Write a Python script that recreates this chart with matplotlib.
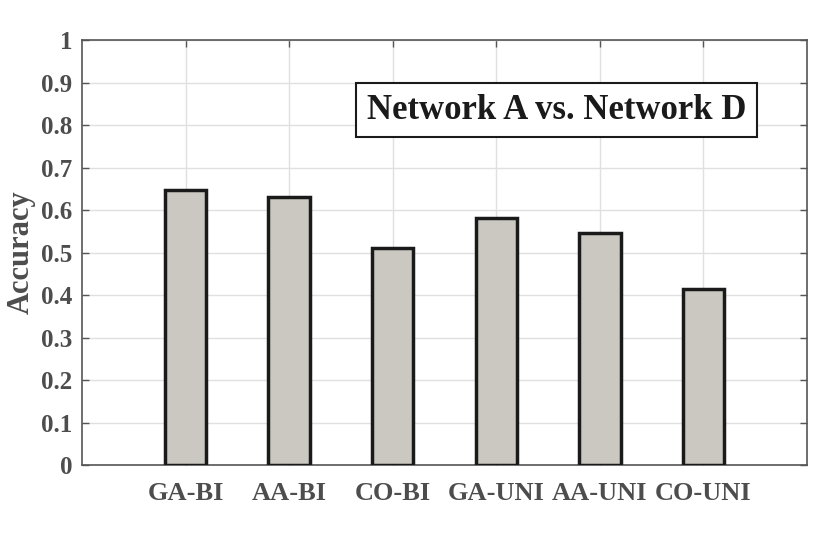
import matplotlib; matplotlib.use("Agg")
import numpy as np, matplotlib.pyplot as plt

methods=["GA-BI","AA-BI","CO-BI","GA-UNI","AA-UNI","CO-UNI"]
accuracy=[0.647,0.630,0.511,0.581,0.546,0.414]
yticks=[0,0.1,0.2,0.3,0.4,0.5,0.6,0.7,0.8,0.9,1]
ytick_labels=["0","0.1","0.2","0.3","0.4","0.5","0.6","0.7","0.8","0.9","1"]

plt.rcParams["font.family"]=["Liberation Serif","DejaVu Serif"]
plt.rcParams["font.weight"]="bold"
txt="#4d4d4d"; axc="#555555"

fig=plt.figure(figsize=(8.3,5.35),dpi=100)
ax=fig.add_axes([0.0988,0.1308,0.8735,0.7944])
x=np.arange(1,len(methods)+1)
ax.bar(x,accuracy,width=0.4,color="#cbc8c2",edgecolor="#1a1a1a",linewidth=2.5,zorder=3)
ax.set_xlim(0,len(methods)+1); ax.set_ylim(0,1)
ax.set_xticks(x); ax.set_xticklabels(methods)
ax.set_yticks(yticks); ax.set_yticklabels(ytick_labels)
ax.grid(True,color="#e0e0e0",linewidth=1,zorder=0)
ax.tick_params(direction="in",length=5,width=1,color=axc,labelcolor=txt,labelsize=18,
               top=True,right=True)
ax.tick_params(axis="x",pad=12,labelsize=19)
ax.tick_params(axis="y",pad=7)
for sp in ax.spines.values(): sp.set_color(axc); sp.set_linewidth(1.2)
ax.set_ylabel("Accuracy",fontsize=22,fontweight="bold",color=txt,labelpad=4)
ax.text(4.58,0.835,"Network A vs. Network D",ha="center",va="center",fontsize=25,
        fontweight="bold",color="#1a1a1a",zorder=5,
        bbox=dict(boxstyle="square,pad=0.3",fc="white",ec="#1a1a1a",lw=1.5))
fig.savefig("out.png",dpi=100)
